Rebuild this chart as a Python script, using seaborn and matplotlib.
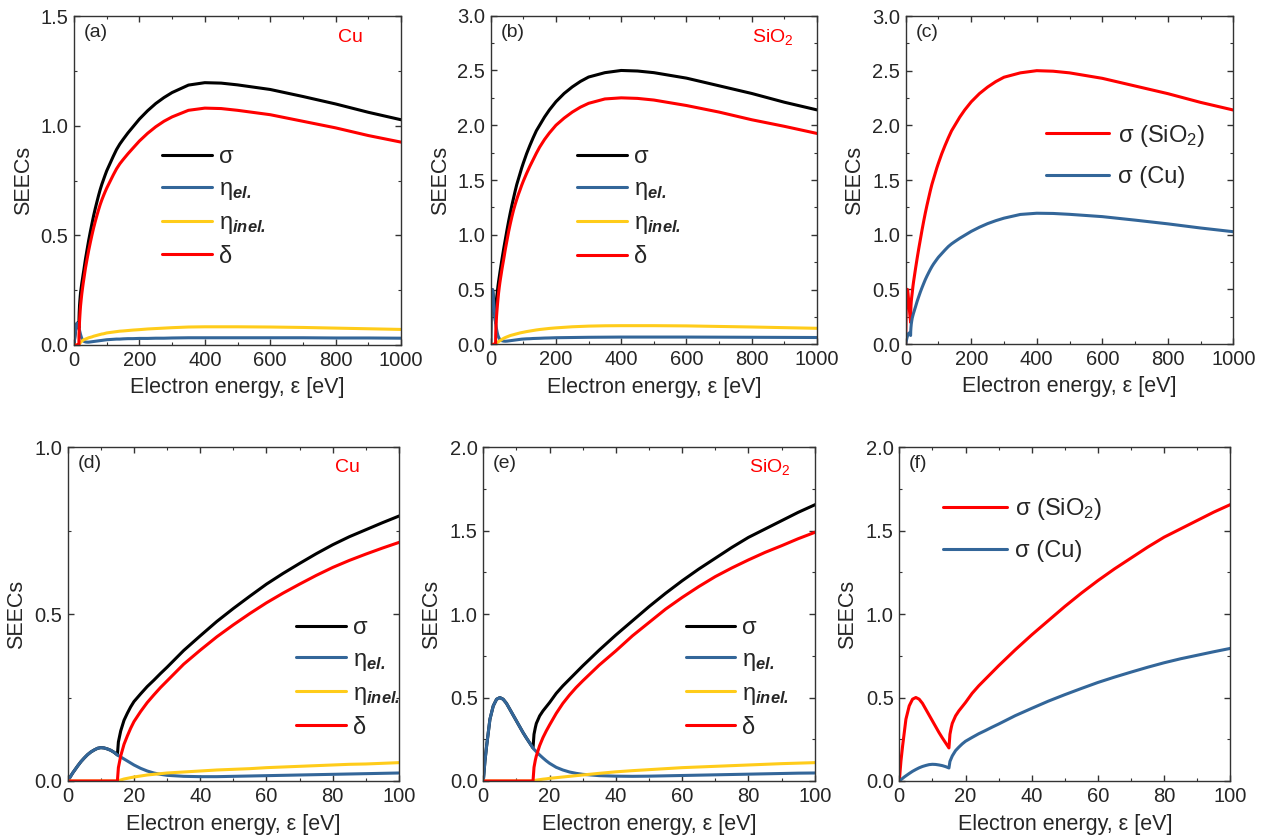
import numpy as np
import pandas as pd
import matplotlib
matplotlib.use("Agg")
import matplotlib.pyplot as plt
import seaborn as sns
from matplotlib.ticker import MultipleLocator, FormatStrFormatter

# ---------------- data ----------------
energy = ([0, 0.5, 1, 1.5, 2, 3, 4, 5, 6, 7, 8, 9, 10, 11, 12, 13, 14, 15]
          + [15.3, 15.7, 16, 17, 18, 19, 20]
          + [22, 24, 26, 28, 30]
          + [35, 40, 45, 50, 55, 60, 65, 70, 75, 80, 85, 90, 95, 100]
          + [110, 120, 130, 140, 150, 165, 180, 200, 225, 250, 275, 300]
          + [350, 400, 450, 500, 600, 700, 800, 900, 1000])

cu_eta_el = ([0, 0.008, 0.016, 0.024, 0.031, 0.045, 0.058, 0.069, 0.079, 0.087, 0.093, 0.098, 0.1, 0.099, 0.096, 0.092, 0.086, 0.078]
             + [0.076, 0.074, 0.072, 0.066, 0.06, 0.054, 0.048]
             + [0.038, 0.03, 0.024, 0.02, 0.017]
             + [0.014, 0.013, 0.013, 0.014, 0.015, 0.016, 0.017, 0.018, 0.019, 0.02, 0.021, 0.022, 0.023, 0.024]
             + [0.025, 0.026, 0.027, 0.027, 0.028, 0.029, 0.029, 0.03, 0.03, 0.031, 0.031, 0.032]
             + [0.033, 0.033, 0.033, 0.033, 0.033, 0.033, 0.032, 0.032, 0.031])
cu_eta_inel = ([0] * 18
               + [0.001, 0.002, 0.003, 0.006, 0.008, 0.01, 0.012]
               + [0.015, 0.018, 0.02, 0.022, 0.024]
               + [0.027, 0.03, 0.033, 0.035, 0.037, 0.04, 0.042, 0.044, 0.046, 0.048, 0.05, 0.051, 0.053, 0.055]
               + [0.057, 0.059, 0.061, 0.063, 0.064, 0.066, 0.068, 0.07, 0.073, 0.075, 0.077, 0.079]
               + [0.082, 0.083, 0.083, 0.083, 0.082, 0.08, 0.077, 0.074, 0.071])
cu_delta = ([0] * 18
            + [0.04, 0.06, 0.075, 0.11, 0.135, 0.158, 0.178]
            + [0.208, 0.235, 0.258, 0.28, 0.3]
            + [0.35, 0.392, 0.432, 0.468, 0.502, 0.534, 0.563, 0.59, 0.616, 0.64, 0.661, 0.68, 0.698, 0.715]
            + [0.745, 0.775, 0.803, 0.826, 0.845, 0.872, 0.897, 0.93, 0.965, 0.995, 1.02, 1.04]
            + [1.07, 1.08, 1.078, 1.07, 1.05, 1.02, 0.99, 0.955, 0.925])
cu_sigma = ([0, 0.008, 0.016, 0.024, 0.031, 0.045, 0.058, 0.069, 0.079, 0.087, 0.093, 0.098, 0.1, 0.099, 0.096, 0.092, 0.086, 0.078]
            + [0.117, 0.136, 0.15, 0.182, 0.203, 0.222, 0.238]
            + [0.261, 0.283, 0.302, 0.322, 0.341]
            + [0.391, 0.435, 0.478, 0.517, 0.554, 0.59, 0.622, 0.652, 0.681, 0.708, 0.732, 0.753, 0.774, 0.794]
            + [0.827, 0.86, 0.891, 0.916, 0.937, 0.967, 0.994, 1.03, 1.068, 1.101, 1.128, 1.151]
            + [1.185, 1.196, 1.194, 1.186, 1.165, 1.133, 1.099, 1.061, 1.027])

sio2_eta_el = ([0, 0.12, 0.21, 0.29, 0.37, 0.45, 0.49, 0.5, 0.49, 0.465, 0.43, 0.395, 0.36, 0.325, 0.29, 0.258, 0.228, 0.198]
               + [0.19, 0.182, 0.176, 0.156, 0.138, 0.121, 0.106]
               + [0.082, 0.066, 0.054, 0.046, 0.04]
               + [0.032, 0.029, 0.028, 0.029, 0.031, 0.033, 0.035, 0.037, 0.039, 0.041, 0.043, 0.045, 0.047, 0.048]
               + [0.05, 0.051, 0.053, 0.054, 0.055, 0.057, 0.058, 0.06, 0.061, 0.062, 0.063, 0.064]
               + [0.065, 0.066, 0.066, 0.066, 0.066, 0.065, 0.064, 0.063, 0.062])
sio2_eta_inel = ([0] * 18
                 + [0.002, 0.004, 0.005, 0.008, 0.011, 0.013, 0.016]
                 + [0.02, 0.024, 0.028, 0.032, 0.036]
                 + [0.046, 0.055, 0.062, 0.068, 0.074, 0.08, 0.084, 0.088, 0.092, 0.096, 0.1, 0.104, 0.107, 0.11]
                 + [0.116, 0.121, 0.126, 0.131, 0.135, 0.14, 0.145, 0.15, 0.155, 0.16, 0.163, 0.166]
                 + [0.169, 0.17, 0.17, 0.17, 0.168, 0.163, 0.158, 0.152, 0.146])
sio2_delta = ([0] * 18
              + [0.082, 0.125, 0.15, 0.212, 0.26, 0.3, 0.336]
              + [0.405, 0.465, 0.515, 0.56, 0.6]
              + [0.695, 0.78, 0.87, 0.95, 1.03, 1.1, 1.165, 1.225, 1.277, 1.325, 1.37, 1.41, 1.452, 1.49]
              + [1.56, 1.625, 1.685, 1.745, 1.8, 1.87, 1.93, 2.0, 2.065, 2.12, 2.165, 2.2]
              + [2.24, 2.25, 2.245, 2.23, 2.18, 2.12, 2.05, 1.99, 1.925])
sio2_sigma = ([0, 0.12, 0.21, 0.29, 0.37, 0.45, 0.49, 0.5, 0.49, 0.465, 0.43, 0.395, 0.36, 0.325, 0.29, 0.258, 0.228, 0.198]
              + [0.28, 0.32, 0.345, 0.39, 0.42, 0.445, 0.47]
              + [0.525, 0.57, 0.61, 0.65, 0.69]
              + [0.785, 0.875, 0.96, 1.045, 1.125, 1.2, 1.27, 1.335, 1.4, 1.46, 1.51, 1.56, 1.61, 1.655]
              + [1.74, 1.815, 1.885, 1.95, 2.0, 2.075, 2.14, 2.215, 2.29, 2.35, 2.4, 2.44]
              + [2.48, 2.5, 2.495, 2.48, 2.43, 2.36, 2.29, 2.21, 2.14])

panel_tags = ["(a)", "(b)", "(c)", "(d)", "(e)", "(f)"]
x_label = "Electron energy, ε [eV]"
y_label = "SEECs"

# ---------------- style ----------------
sns.set_theme(style="ticks")
plt.rcParams["font.family"] = ["Liberation Sans", "DejaVu Sans"]
plt.rcParams.update({
    "mathtext.fontset": "custom",
    "mathtext.rm": "Liberation Sans",
    "mathtext.it": "Liberation Sans:italic",
    "mathtext.bf": "Liberation Sans:bold",
    "mathtext.bfit": "Liberation Sans:italic:bold",
    "axes.edgecolor": "#333333",
    "axes.linewidth": 1.0,
})

C_BLACK = "#000000"
C_BLUE = "#336699"
C_YELLOW = "#FFCC1A"
C_RED = "#FF0000"
LW = 2.2

W, H = 1266, 840
fig = plt.figure(figsize=(W / 100, H / 100), dpi=100)


def make_ax(l, r, t, b):
    return fig.add_axes([l / W, 1 - b / H, (r - l) / W, (b - t) / H])


boxes = [(74, 401, 16, 345), (490.7, 817, 15.7, 344.3), (905.7, 1233.3, 16, 344),
         (67.7, 399, 447.3, 781), (483.3, 814.7, 447.3, 781), (899.3, 1230.3, 447, 781)]
axes = [make_ax(*bx) for bx in boxes]

lab_sigma = "σ"
lab_el = r"η$_{\mathbfit{el.}}$"
lab_inel = r"η$_{\mathbfit{inel.}}$"
lab_delta = "δ"


def draw_four(ax, sigma, eta_el, eta_inel, delta):
    sns.lineplot(x=energy, y=sigma, ax=ax, color=C_BLACK, lw=LW, label=lab_sigma)
    sns.lineplot(x=energy, y=eta_el, ax=ax, color=C_BLUE, lw=LW, label=lab_el)
    sns.lineplot(x=energy, y=eta_inel, ax=ax, color=C_YELLOW, lw=LW, label=lab_inel)
    sns.lineplot(x=energy, y=delta, ax=ax, color=C_RED, lw=LW, label=lab_delta)


def draw_two(ax):
    sns.lineplot(x=energy, y=sio2_sigma, ax=ax, color=C_RED, lw=LW, label=r"σ (SiO$_2$)")
    sns.lineplot(x=energy, y=cu_sigma, ax=ax, color=C_BLUE, lw=LW, label="σ (Cu)")


def style(ax, xmax, xmaj, xmin, ymax, tag):
    ax.set_xlim(0, xmax)
    ax.set_ylim(0, ymax)
    ax.xaxis.set_major_locator(MultipleLocator(xmaj))
    ax.xaxis.set_minor_locator(MultipleLocator(xmin))
    ax.yaxis.set_major_locator(MultipleLocator(0.5))
    ax.yaxis.set_minor_locator(MultipleLocator(0.25))
    ax.yaxis.set_major_formatter(FormatStrFormatter("%.1f"))
    ax.tick_params(which="both", direction="in", top=True, right=True,
                   color="#333333", labelsize=14.5, pad=4)
    ax.tick_params(which="major", length=4, width=1)
    ax.tick_params(which="minor", length=2.5, width=0.8)
    ax.set_xlabel(x_label, fontsize=15.5)
    ax.set_ylabel(y_label, fontsize=15.5)
    ax.xaxis.set_label_coords(0.5, -0.13)
    ax.xaxis.label.set_va("center")
    ax.yaxis.set_label_coords(-0.155, 0.5)
    ax.yaxis.label.set_va("center")
    ax.text(0.03, 0.95, tag, transform=ax.transAxes, ha="left", va="center", fontsize=14)


draw_four(axes[0], cu_sigma, cu_eta_el, cu_eta_inel, cu_delta)
draw_four(axes[1], sio2_sigma, sio2_eta_el, sio2_eta_inel, sio2_delta)
draw_two(axes[2])
draw_four(axes[3], cu_sigma, cu_eta_el, cu_eta_inel, cu_delta)
draw_four(axes[4], sio2_sigma, sio2_eta_el, sio2_eta_inel, sio2_delta)
draw_two(axes[5])

style(axes[0], 1000, 200, 100, 1.5, panel_tags[0])
style(axes[1], 1000, 200, 100, 3.0, panel_tags[1])
style(axes[2], 1000, 200, 100, 3.0, panel_tags[2])
style(axes[3], 100, 20, 10, 1.0, panel_tags[3])
style(axes[4], 100, 20, 10, 2.0, panel_tags[4])
style(axes[5], 100, 20, 10, 2.0, panel_tags[5])

# material labels
axes[0].text(0.844, 0.936, "Cu", color=C_RED, transform=axes[0].transAxes, ha="center", va="center", fontsize=14)
axes[3].text(0.844, 0.938, "Cu", color=C_RED, transform=axes[3].transAxes, ha="center", va="center", fontsize=14)
axes[1].text(0.866, 0.934, r"SiO$_2$", color=C_RED, transform=axes[1].transAxes, ha="center", va="center", fontsize=14)
axes[4].text(0.865, 0.94, r"SiO$_2$", color=C_RED, transform=axes[4].transAxes, ha="center", va="center", fontsize=14)

leg4 = dict(loc="upper left", frameon=False, fontsize=17, handlelength=2.1,
            handletextpad=0.3, labelspacing=0.42, borderpad=0, borderaxespad=0)
axes[0].legend(bbox_to_anchor=(0.269, 0.605), **leg4)
axes[1].legend(bbox_to_anchor=(0.265, 0.603), **leg4)
axes[3].legend(bbox_to_anchor=(0.69, 0.492), **leg4)
axes[4].legend(bbox_to_anchor=(0.611, 0.492), **leg4)

leg2 = dict(loc="upper left", frameon=False, fontsize=17, handlelength=2.7,
            handletextpad=0.35, labelspacing=0.75, borderpad=0, borderaxespad=0)
axes[2].legend(bbox_to_anchor=(0.427, 0.675), **leg2)
axes[5].legend(bbox_to_anchor=(0.132, 0.852), **leg2)

fig.savefig("out.png", dpi=100)
